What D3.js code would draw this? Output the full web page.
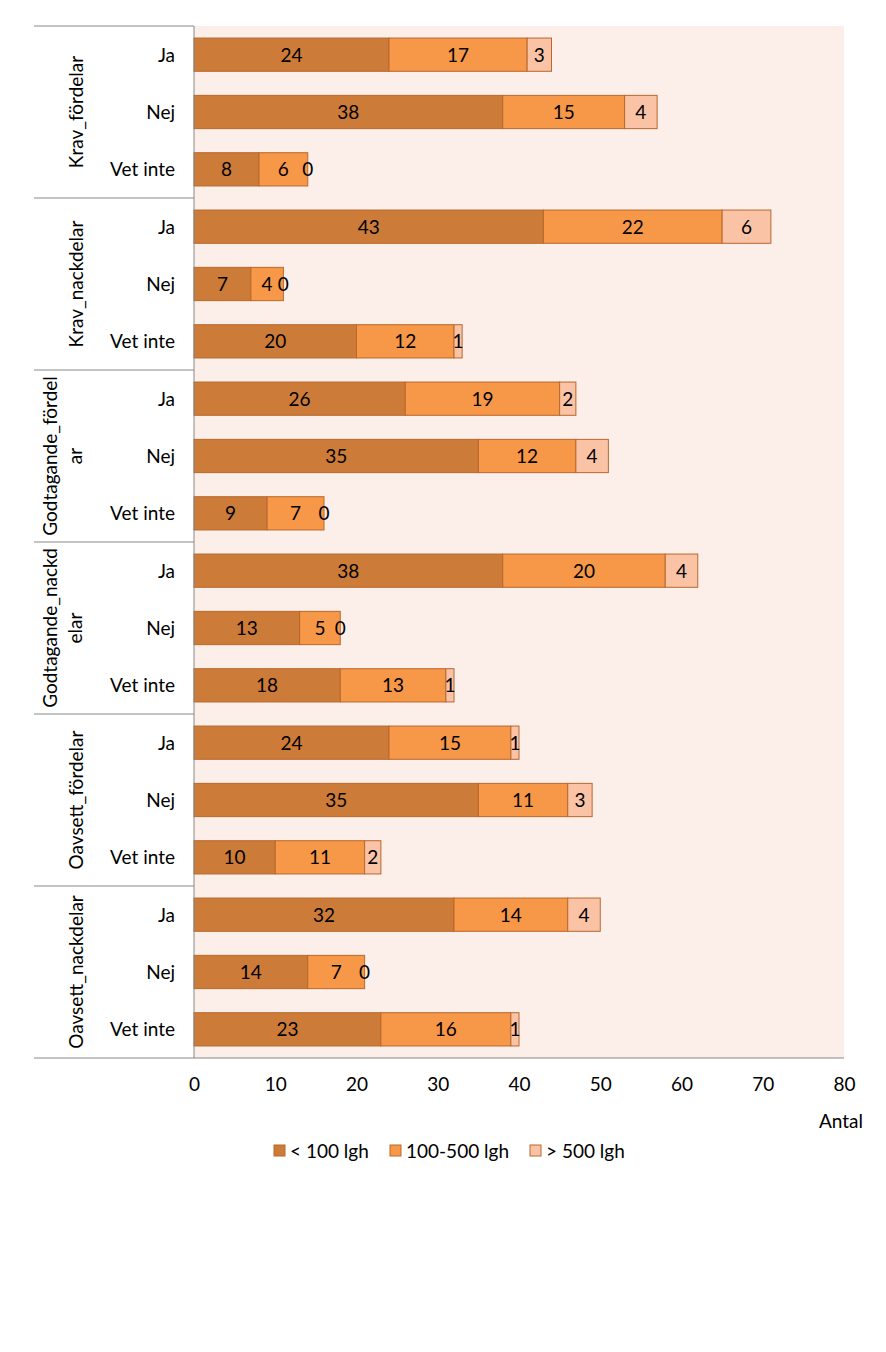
<!DOCTYPE html>
<html><head><meta charset="utf-8">
<script src="https://cdn.jsdelivr.net/npm/d3@7"></script>
<style>body{margin:0;background:#fff;} text{font-family:Lato,"Open Sans",sans-serif;}</style>
</head><body>
<svg id="c" width="886" height="1352"></svg>
<script>
const groups = [["Krav_fördelar"],["Krav_nackdelar"],["Godtagande_fördel","ar"],["Godtagande_nackd","elar"],["Oavsett_fördelar"],["Oavsett_nackdelar"]];
const answers = ["Ja","Nej","Vet inte"];
const seriesNames = ["< 100 lgh","100-500 lgh","> 500 lgh"];
const small = [24,38,8, 43,7,20, 26,35,9, 38,13,18, 24,35,10, 32,14,23];
const medium = [17,15,6, 22,4,12, 19,12,7, 20,5,13, 15,11,11, 14,7,16];
const large = [3,4,0, 6,0,1, 2,4,0, 4,0,1, 1,3,2, 4,0,1];
const ticks = [0,10,20,30,40,50,60,70,80];
const colors = ["#CC7B38","#F79748","#FAC3A6"];
const axisTitle = "Antal";

const FS = 19;
const svg = d3.select("#c");
const L=194,R=844,T=26,B=1058;
const x = d3.scaleLinear().domain([0,80]).range([L,R]);
const rows = [];
groups.forEach((g,gi)=>answers.forEach((a,ai)=>rows.push(gi*3+ai)));
const y = d3.scaleBand().domain(rows).range([T,B]).paddingInner(0.42).paddingOuter(0.21);

svg.append("rect").attr("x",L).attr("y",T).attr("width",R-L).attr("height",B-T).attr("fill","#FCEEE9");

const data = rows.map(i=>({i, vals:[small[i],medium[i],large[i]]}));
const stack = d3.stack().keys([0,1,2]).value((d,k)=>d.vals[k])(data);
stack.forEach((s,k)=>{
  const g = svg.append("g");
  g.selectAll("rect").data(s).join("rect")
    .attr("x",d=>x(d[0])).attr("y",d=>y(d.data.i))
    .attr("width",d=>x(d[1])-x(d[0])).attr("height",y.bandwidth())
    .attr("fill",colors[k]).attr("stroke","#B8682C").attr("stroke-width",1)
    .attr("display",d=>d[1]-d[0]===0?"none":null);
  g.selectAll("text").data(s).join("text")
    .attr("x",d=>(x(d[0])+x(d[1]))/2).attr("y",d=>y(d.data.i)+y.bandwidth()/2)
    .attr("dy","0.36em").attr("text-anchor","middle").attr("font-size",FS).attr("fill","#000")
    .text(d=>d.data.vals[k]);
});

svg.append("line").attr("x1",L).attr("x2",L).attr("y1",T).attr("y2",B).attr("stroke","#898989");
svg.append("line").attr("x1",34).attr("x2",R).attr("y1",B).attr("y2",B).attr("stroke","#898989");
const gh = (B-T)/groups.length;
for(let gi=0;gi<groups.length;gi++){
  svg.append("line").attr("x1",34).attr("x2",L).attr("y1",T+gi*gh).attr("y2",T+gi*gh).attr("stroke","#898989");
  const cy = T+gi*gh+gh/2;
  const lines = groups[gi];
  lines.forEach((t,li)=>{
    const cx = 76 - (lines.length-1)*26 + li*25;
    svg.append("text").attr("transform",`translate(${cx},${cy}) rotate(-90)`)
      .attr("text-anchor","middle").attr("dy","0.36em").attr("font-size",FS).text(t);
  });
}
rows.forEach(i=>{
  svg.append("text").attr("x",175).attr("y",y(i)+y.bandwidth()/2).attr("dy","0.36em")
    .attr("text-anchor","end").attr("font-size",FS).text(answers[i%3]);
});

const ax = d3.axisBottom(x).tickValues(ticks).tickSize(0).tickPadding(20);
const axg = svg.append("g").attr("transform",`translate(0,${B})`).call(ax);
axg.select(".domain").remove();
axg.selectAll("text").attr("font-size",FS).attr("fill","#000").style("font-family","Lato,'Open Sans',sans-serif");
svg.append("text").attr("x",863).attr("y",1128).attr("text-anchor","end").attr("font-size",FS).text(axisTitle);

const lx=[274,390,530];
seriesNames.forEach((n,k)=>{
  svg.append("rect").attr("x",lx[k]).attr("y",1145).attr("width",11).attr("height",11).attr("fill",colors[k]).attr("stroke","#B8682C");
  svg.append("text").attr("x",lx[k]+16).attr("y",1151).attr("dy","0.36em").attr("font-size",FS).text(n);
});
</script>
</body></html>
